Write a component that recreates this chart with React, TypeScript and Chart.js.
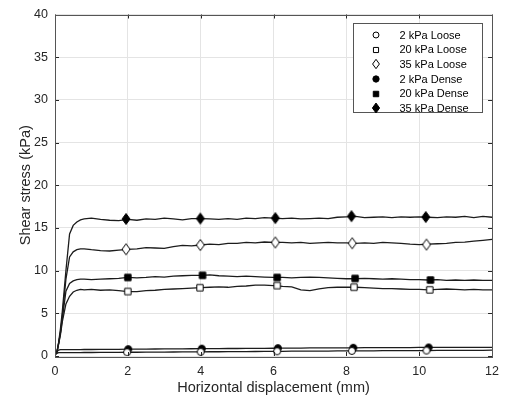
import React, { useEffect, useRef } from 'react';
import { Chart, registerables } from 'chart.js';

Chart.register(...registerables);

// Horizontal displacement (mm) sample positions
const xs = [
  0, 0.05, 0.1, 0.15, 0.2, 0.3, 0.4, 0.5, 0.6, 0.7, 0.8, 1.0,
  1.25, 1.5, 1.75, 2.0, 2.25, 2.5, 2.75, 3.0, 3.25, 3.5, 3.75, 4.0,
  4.25, 4.5, 4.75, 5.0, 5.25, 5.5, 5.75, 6.0, 6.25, 6.5, 6.75, 7.0,
  7.25, 7.5, 7.75, 8.0, 8.25, 8.5, 8.75, 9.0, 9.25, 9.5, 9.75, 10.0,
  10.25, 10.5, 10.75, 11.0, 11.25, 11.5, 11.75, 12.0,
];

// Shear stress (kPa) curves
const loose2 = [
  0.1, 0.3, 0.4, 0.4, 0.4, 0.4, 0.4, 0.4, 0.4, 0.4, 0.41, 0.41,
  0.42, 0.42, 0.43, 0.44, 0.44, 0.45, 0.46, 0.46, 0.47, 0.48, 0.48, 0.49,
  0.5, 0.5, 0.51, 0.52, 0.52, 0.53, 0.54, 0.54, 0.55, 0.56, 0.56, 0.57,
  0.58, 0.58, 0.59, 0.6, 0.6, 0.6, 0.61, 0.62, 0.62, 0.63, 0.63, 0.64,
  0.64, 0.65, 0.65, 0.66, 0.66, 0.67, 0.67, 0.68,
];
const loose20 = [
  0.2, 0.4, 1.4, 2.5, 4.0, 6.1, 7.0, 7.5, 7.7, 7.8, 7.75, 7.8,
  7.7, 7.75, 7.65, 7.55, 7.55, 7.65, 7.7, 7.8, 7.85, 7.9, 7.95, 8.0,
  8.05, 8.1, 8.05, 8.15, 8.2, 8.3, 8.3, 8.25, 8.15, 8.1, 7.75, 7.65,
  7.85, 8.0, 8.05, 8.05, 8.05, 8.0, 7.95, 7.9, 7.9, 7.85, 7.8, 7.8,
  7.75, 7.8, 7.85, 7.8, 7.75, 7.8, 7.75, 7.75,
];
const loose35 = [
  0.2, 0.4, 1.5, 2.8, 4.6, 9.0, 11.6, 12.2, 12.45, 12.55, 12.55, 12.45,
  12.35, 12.3, 12.4, 12.5, 12.55, 12.7, 12.65, 12.6, 12.8, 12.95, 12.9, 13.0,
  13.1, 13.05, 13.2, 13.2, 13.3, 13.25, 13.35, 13.3, 13.3, 13.25, 13.3, 13.2,
  13.25, 13.3, 13.25, 13.25, 13.2, 13.25, 13.2, 13.3, 13.25, 13.2, 13.1, 13.05,
  13.1, 13.15, 13.2, 13.3, 13.35, 13.45, 13.55, 13.65,
];
const dense2 = [
  0.2, 0.5, 0.7, 0.75, 0.75, 0.75, 0.75, 0.75, 0.75, 0.75, 0.76, 0.76,
  0.77, 0.78, 0.78, 0.8, 0.8, 0.81, 0.82, 0.83, 0.83, 0.84, 0.85, 0.86,
  0.86, 0.87, 0.88, 0.88, 0.89, 0.9, 0.9, 0.91, 0.92, 0.92, 0.93, 0.94,
  0.94, 0.95, 0.95, 0.96, 0.96, 0.97, 0.97, 0.98, 0.98, 0.98, 0.99, 1.0,
  1.0, 1.0, 1.0, 1.01, 1.01, 1.02, 1.02, 1.02,
];
const dense20 = [
  0.2, 0.4, 1.5, 2.7, 4.3, 7.6, 8.5, 8.8, 8.95, 9.0, 9.0, 8.95,
  9.0, 9.05, 9.1, 9.2, 9.15, 9.2, 9.3, 9.25, 9.35, 9.4, 9.45, 9.45,
  9.5, 9.4, 9.35, 9.3, 9.35, 9.3, 9.25, 9.2, 9.2, 9.15, 9.2, 9.25,
  9.2, 9.15, 9.1, 9.05, 9.05, 9.1, 9.05, 9.0, 9.05, 9.0, 8.95, 8.95,
  8.9, 8.95, 8.85, 8.9, 8.85, 8.9, 8.85, 8.85,
];
const dense35 = [
  0.2, 0.4, 1.6, 3.2, 5.2, 10.0, 14.3, 15.3, 15.7, 15.95, 16.05, 16.15,
  16.0, 15.9, 15.85, 16.0, 15.9, 16.05, 16.0, 16.15, 16.05, 15.95, 16.1, 16.1,
  16.05, 16.0, 16.1, 16.0, 16.15, 16.1, 16.2, 16.15, 16.1, 16.15, 16.05, 16.1,
  16.15, 16.1, 16.25, 16.3, 16.35, 16.2, 16.25, 16.3, 16.2, 16.3, 16.25, 16.3,
  16.25, 16.2, 16.3, 16.25, 16.35, 16.2, 16.35, 16.25,
];

// Marker positions
const loose2MarkX = [1.98, 4.0, 6.1, 8.15, 10.2];
const loose2MarkY = [0.44, 0.49, 0.55, 0.6, 0.64];
const loose20MarkX = [2.0, 3.98, 6.1, 8.21, 10.29];
const loose20MarkY = [7.55, 8.0, 8.25, 8.06, 7.75];
const loose35MarkX = [1.95, 3.99, 6.05, 8.16, 10.2];
const loose35MarkY = [12.5, 13.0, 13.3, 13.2, 13.05];
const dense2MarkX = [2.01, 4.03, 6.12, 8.19, 10.26];
const dense2MarkY = [0.8, 0.86, 0.92, 0.96, 1.0];
const dense20MarkX = [2.0, 4.05, 6.1, 8.24, 10.31];
const dense20MarkY = [9.2, 9.45, 9.2, 9.08, 8.9];
const dense35MarkX = [1.95, 3.99, 6.05, 8.14, 10.18];
const dense35MarkY = [16.05, 16.1, 16.15, 16.38, 16.28];

const xTicks = [0, 2, 4, 6, 8, 10, 12];
const yTicks = [0, 5, 10, 15, 20, 25, 30, 35, 40];
const legendLabels = ['2 kPa Loose', '20 kPa Loose', '35 kPa Loose', '2 kPa Dense', '20 kPa Dense', '35 kPa Dense'];

const TEXT = '#262626';
const FONT = 'Arial, "Liberation Sans", Helvetica, sans-serif';

type Kind = 'circle' | 'square' | 'diamond';

function makeMarker(kind: Kind, filled: boolean, scale = 1): HTMLCanvasElement {
  const c = document.createElement('canvas');
  c.width = 14;
  c.height = 14;
  const g = c.getContext('2d')!;
  g.beginPath();
  if (kind === 'circle') {
    g.arc(7, 7, 3.5 * scale, 0, Math.PI * 2);
  } else if (kind === 'square') {
    const h = 3.2 * scale;
    g.rect(7 - h, 7 - h, 2 * h, 2 * h);
  } else {
    const w = 4 * scale;
    const hh = 5.5 * scale;
    g.moveTo(7, 7 - hh);
    g.lineTo(7 + w, 7);
    g.lineTo(7, 7 + hh);
    g.lineTo(7 - w, 7);
    g.closePath();
  }
  g.fillStyle = filled ? '#000' : '#fff';
  g.fill();
  g.strokeStyle = '#000';
  g.lineWidth = 1;
  g.stroke();
  return c;
}

function pts(x: number[], y: number[]) {
  return x.map((v, i) => ({ x: v, y: y[i] }));
}

export default function App() {
  const ref = useRef<HTMLCanvasElement | null>(null);

  useEffect(() => {
    if (!ref.current) return;
    const markers = [
      makeMarker('circle', false),
      makeMarker('square', false),
      makeMarker('diamond', false),
      makeMarker('circle', true),
      makeMarker('square', true),
      makeMarker('diamond', true),
    ];
    const legendMarkers = [
      makeMarker('circle', false, 0.85),
      makeMarker('square', false, 0.8),
      makeMarker('diamond', false, 0.85),
      makeMarker('circle', true, 0.9),
      makeMarker('square', true, 0.85),
      makeMarker('diamond', true, 0.9),
    ];
    const curves = [loose2, loose20, loose35, dense2, dense20, dense35];
    const markData = [
      pts(loose2MarkX, loose2MarkY),
      pts(loose20MarkX, loose20MarkY),
      pts(loose35MarkX, loose35MarkY),
      pts(dense2MarkX, dense2MarkY),
      pts(dense20MarkX, dense20MarkY),
      pts(dense35MarkX, dense35MarkY),
    ];

    const lineSets = curves.map((ys, i) => ({
      type: 'line' as const,
      label: legendLabels[i] + ' line',
      data: pts(xs, ys),
      borderColor: '#1c1c1c',
      borderWidth: 1.3,
      pointRadius: 0,
      tension: 0,
      fill: false,
      order: 2,
    }));
    const markSets = markData.map((d, i) => ({
      type: 'line' as const,
      label: legendLabels[i],
      data: d,
      showLine: false,
      pointStyle: markers[i],
      pointRadius: 5,
      borderColor: '#000',
      backgroundColor: '#000',
      order: 1,
    }));

    const framePlugin = {
      id: 'frame',
      afterDraw(chart: any) {
        const { ctx, chartArea } = chart;
        const { left, right, top, bottom } = chartArea;
        const sx = chart.scales.x;
        const sy = chart.scales.y;
        ctx.save();
        ctx.strokeStyle = TEXT;
        ctx.lineWidth = 1;
        const tl = 4;
        ctx.beginPath();
        xTicks.forEach((v) => {
          const px = Math.round(sx.getPixelForValue(v)) + 0.5;
          ctx.moveTo(px, bottom);
          ctx.lineTo(px, bottom - tl);
          ctx.moveTo(px, top);
          ctx.lineTo(px, top + tl);
        });
        yTicks.forEach((v) => {
          const py = Math.round(sy.getPixelForValue(v)) + 0.5;
          ctx.moveTo(left, py);
          ctx.lineTo(left + tl, py);
          ctx.moveTo(right, py);
          ctx.lineTo(right - tl, py);
        });
        ctx.stroke();
        ctx.strokeStyle = '#555';
        ctx.strokeRect(Math.round(left) + 0.5, Math.round(top) + 0.5, Math.round(right - left), Math.round(bottom - top));

        // legend
        const bx = Math.round(right) - 139 + 0.5;
        const by = Math.round(top) + 8 + 0.5;
        const bw = 129;
        const bh = 89;
        ctx.fillStyle = '#fff';
        ctx.fillRect(bx, by, bw, bh);
        ctx.strokeStyle = '#555';
        ctx.strokeRect(bx, by, bw, bh);
        ctx.font = '11px ' + FONT;
        ctx.fillStyle = '#000';
        ctx.textAlign = 'left';
        ctx.textBaseline = 'middle';
        legendLabels.forEach((lab, i) => {
          const cy = by + 11.5 + i * 14.66;
          const m = legendMarkers[i];
          ctx.drawImage(m, Math.round(bx + 22.5 - m.width / 2), Math.round(cy - m.height / 2));
          ctx.fillText(lab, bx + 46, cy + 0.5);
        });
        ctx.restore();
      },
    };

    const chart = new Chart(ref.current, {
      type: 'line',
      data: { datasets: [...lineSets, ...markSets] as any },
      options: {
        animation: false,
        responsive: false,
        layout: { padding: { left: 0, right: 11, top: 12, bottom: 0 } },
        plugins: { legend: { display: false }, tooltip: { enabled: false } },
        scales: {
          x: {
            type: 'linear',
            min: 0,
            max: 12,
            afterFit: (s: any) => { s.height = 45; },
            afterBuildTicks: (s: any) => { s.ticks = xTicks.map((v) => ({ value: v })); },
            ticks: { color: TEXT, font: { family: FONT, size: 12.5 }, padding: 8, maxRotation: 0 },
            grid: { color: '#e4e4e4', drawTicks: false },
            border: { display: false },
            title: {
              display: true,
              text: 'Horizontal displacement (mm)',
              color: TEXT,
              font: { family: FONT, size: 14.5 },
              padding: { top: 0, bottom: 4 },
            },
          },
          y: {
            type: 'linear',
            min: 0,
            max: 40,
            afterFit: (s: any) => { s.width = 55; },
            afterBuildTicks: (s: any) => { s.ticks = yTicks.map((v) => ({ value: v })); },
            ticks: { color: TEXT, font: { family: FONT, size: 12.5 }, padding: 7 },
            grid: { color: '#e4e4e4', drawTicks: false },
            border: { display: false },
            title: {
              display: true,
              text: 'Shear stress (kPa)',
              color: TEXT,
              font: { family: FONT, size: 14.5 },
              padding: { top: 17, bottom: 0 },
            },
          },
        },
      } as any,
      plugins: [framePlugin],
    });
    return () => chart.destroy();
  }, []);

  return (
    <div style={{ position: 'fixed', left: 0, top: 0, width: 507, height: 401, background: '#fff' }}>
      <canvas ref={ref} width={507} height={401} style={{ display: 'block', width: 507, height: 401 }} />
    </div>
  );
}
